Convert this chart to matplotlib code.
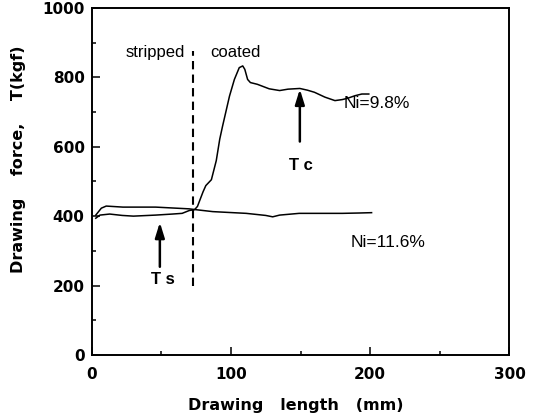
#!/usr/bin/env python3
"""Drawing force vs drawing length for stripped / coated wire (Ni=9.8% and Ni=11.6%)."""
import matplotlib
matplotlib.use('Agg')
import matplotlib.pyplot as plt
from matplotlib.ticker import MultipleLocator

# Ni=9.8% : low on the stripped part, rises sharply once the coated part enters the die
x_98 = [3, 6, 13, 22, 30, 46, 58, 65, 70, 74, 76, 80, 82, 86, 89.5, 92, 94, 99, 102.5,
        106, 108.5, 110, 112, 114, 119, 127.5, 135, 141, 149.5, 155, 160, 167.5, 174.7,
        180, 184, 189, 194, 199]
y_98 = [394, 403, 406, 402, 400, 403, 406, 408, 416, 419, 428, 470, 488, 505, 560, 622,
        659, 746, 794, 828, 833, 823, 794, 785, 780, 767, 762, 766, 768, 763, 757, 743,
        733, 736, 740, 747, 752, 752]

# Ni=11.6% : nearly flat throughout
x_116 = [3, 7, 10.5, 22.5, 46, 70, 74, 87, 111, 125, 130, 135, 149, 165, 180, 192, 201]
y_116 = [403, 423, 429, 426, 426, 421, 419, 413, 408, 402, 398, 403, 408, 408, 408, 409, 410]

boundary_x = 73
boundary_y = [198, 875]

plt.rcParams['font.family'] = ['Liberation Sans', 'DejaVu Sans']
bold = dict(family='DejaVu Sans', fontweight='bold')

fig = plt.figure(figsize=(5.42, 4.2), dpi=100)
ax = fig.add_axes([0.169, 0.155, 0.771, 0.826])

ax.plot(x_98, y_98, color='black', lw=1.1)
ax.plot(x_116, y_116, color='black', lw=1.1)
ax.plot([boundary_x, boundary_x], boundary_y, color='black', lw=1.5, ls=(0, (4, 2.5)))

ax.text(45.5, 872, 'stripped', ha='center', va='center', fontsize=12)
ax.text(103, 872, 'coated', ha='center', va='center', fontsize=12)
ax.text(181, 726, 'Ni=9.8%', ha='left', va='center', fontsize=12.5)
ax.text(186, 323, 'Ni=11.6%', ha='left', va='center', fontsize=12.5)

arrow = dict(arrowstyle='-|>,head_length=0.9,head_width=0.28', color='black', lw=1.8,
             shrinkA=0, shrinkB=0)
ax.annotate('', xy=(49, 382), xytext=(49, 254), arrowprops=arrow)
ax.annotate('', xy=(149.5, 766), xytext=(149.5, 615), arrowprops=arrow)
ax.text(51.5, 216, 'T s', ha='center', va='center', fontsize=12, fontweight='bold')
ax.text(150, 545, 'T c', ha='center', va='center', fontsize=12, fontweight='bold')

ax.set_xlim(0, 300)
ax.set_ylim(0, 1000)
ax.xaxis.set_major_locator(MultipleLocator(100))
ax.xaxis.set_minor_locator(MultipleLocator(50))
ax.yaxis.set_major_locator(MultipleLocator(200))
ax.yaxis.set_minor_locator(MultipleLocator(100))
ax.tick_params(which='both', direction='in', labelsize=11)
ax.tick_params(which='major', length=6, width=1.1)
ax.tick_params(which='minor', length=3, width=1.1)
ax.tick_params(axis='x', pad=9)
ax.tick_params(axis='y', pad=5)
for lbl in ax.get_xticklabels() + ax.get_yticklabels():
    lbl.set_fontfamily('DejaVu Sans')
    lbl.set_fontweight('bold')
for sp in ax.spines.values():
    sp.set_linewidth(1.4)

ax.set_xlabel('Drawing   length   (mm)', fontsize=11.5, **bold)
ax.set_ylabel('Drawing    force,    T(kgf)', fontsize=11.5, **bold)
ax.xaxis.set_label_coords(0.489, -0.125)
ax.yaxis.set_label_coords(-0.157, 0.565)

fig.savefig('out.png', dpi=100)
